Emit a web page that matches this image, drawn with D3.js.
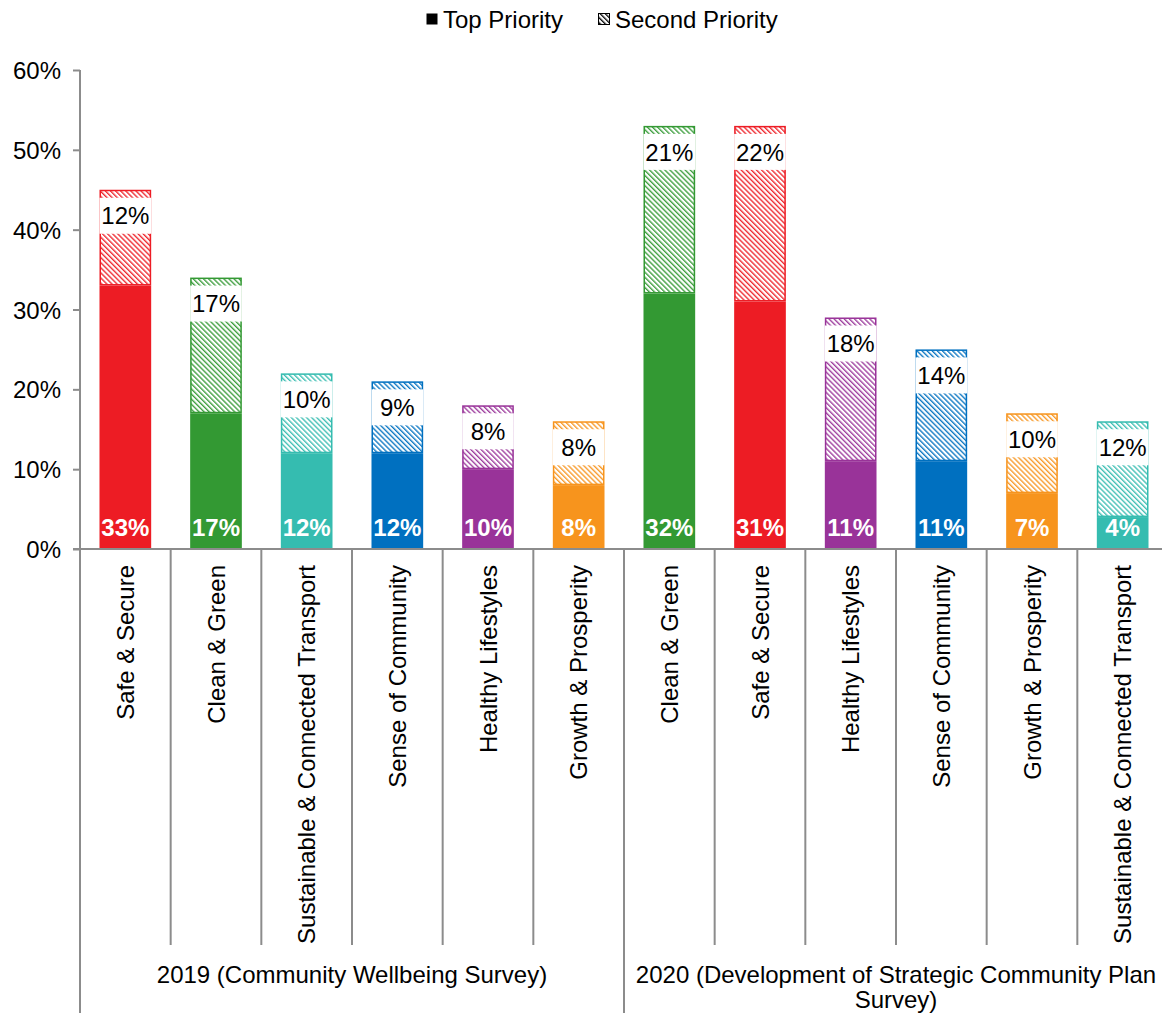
<!DOCTYPE html>
<html>
<head>
<meta charset="utf-8">
<script src="https://cdn.jsdelivr.net/npm/d3@7"></script>
<style>
  html, body { margin: 0; padding: 0; background: #fff; }
  svg { display: block; font-family: "Liberation Sans", Arial, sans-serif; }
</style>
</head>
<body>
<svg id="chart" width="1162" height="1013"></svg>
<script>
// Survey priorities, one entry per bar, in display order
const groups = ["2019 (Community Wellbeing Survey)", "2020 (Development of Strategic Community Plan Survey)"];
const categories = [
  "Safe & Secure", "Clean & Green", "Sustainable & Connected Transport",
  "Sense of Community", "Healthy Lifestyles", "Growth & Prosperity",
  "Clean & Green", "Safe & Secure", "Healthy Lifestyles",
  "Sense of Community", "Growth & Prosperity", "Sustainable & Connected Transport"
];
const groupOf = [0, 0, 0, 0, 0, 0, 1, 1, 1, 1, 1, 1];
const topPriority = [33, 17, 12, 12, 10, 8, 32, 31, 11, 11, 7, 4];
const secondPriority = [12, 17, 10, 9, 8, 8, 21, 22, 18, 14, 10, 12];
const yTicks = [0, 10, 20, 30, 40, 50, 60];
const seriesNames = ["Top Priority", "Second Priority"];

const themeColor = {
  "Safe & Secure": "#ed1c24",
  "Clean & Green": "#339933",
  "Sustainable & Connected Transport": "#35bcb0",
  "Sense of Community": "#0070c0",
  "Healthy Lifestyles": "#993399",
  "Growth & Prosperity": "#f7941d"
};

const svg = d3.select("#chart");
const FONT = 24;
const axisColor = "#8c8c8c";

const W = 1162, H = 1013;
const x0 = 80, x1 = 1168;
const yZero = 549;

const idx = d3.range(categories.length);
const x = d3.scaleBand().domain(idx).range([x0, x1]).paddingInner(0.43).paddingOuter(0.215);
const y = d3.scaleLinear().domain([0, 60]).range([yZero, 70]);

// Hatch patterns: one per theme colour, plus black for the legend
const defs = svg.append("defs");
function hatch(id, color) {
  const p = defs.append("pattern")
    .attr("id", id)
    .attr("patternUnits", "userSpaceOnUse")
    .attr("width", 3.6).attr("height", 3.6)
    .attr("patternTransform", "rotate(-45)");
  p.append("rect").attr("width", 3.6).attr("height", 3.6).attr("fill", "#fff");
  p.append("line").attr("x1", 0.7).attr("y1", 0).attr("x2", 0.7).attr("y2", 3.6)
    .attr("stroke", color).attr("stroke-width", 1.3);
}
const patternId = {};
Object.entries(themeColor).forEach(([k, c], i) => { patternId[k] = "hatch" + i; hatch("hatch" + i, c); });
hatch("hatchLegend", "#000");

// Y axis
const yAxis = d3.axisLeft(y).tickValues(yTicks).tickFormat(d => d + "%").tickSize(7).tickSizeOuter(0);
const gy = svg.append("g").attr("transform", `translate(${x0},0)`).call(yAxis);
gy.select(".domain").remove();
gy.selectAll(".tick line").attr("stroke", axisColor).attr("stroke-width", 2);
gy.selectAll(".tick text").attr("font-size", FONT).attr("fill", "#000")
  .attr("font-family", "Liberation Sans, Arial, sans-serif").attr("x", -19).attr("dy", "0.36em");
svg.append("line").attr("x1", x0).attr("x2", x0).attr("y1", y(60)).attr("y2", H)
  .attr("stroke", axisColor).attr("stroke-width", 2);

// Bars
const bars = svg.append("g");
idx.forEach(i => {
  const c = categories[i];
  const bx = x(i), bw = x.bandwidth();
  const t = topPriority[i], s = secondPriority[i];
  bars.append("rect").attr("x", bx).attr("width", bw)
    .attr("y", y(t)).attr("height", y(0) - y(t)).attr("fill", themeColor[c]);
  bars.append("rect").attr("x", bx + 0.75).attr("width", bw - 1.5)
    .attr("y", y(t + s) + 0.75).attr("height", y(t) - y(t + s) - 1.5)
    .attr("fill", `url(#${patternId[c]})`)
    .attr("stroke", themeColor[c]).attr("stroke-width", 1.5);
  // second-priority label, boxed near the top of its segment
  const boxTop = y(t + s) + 8;
  bars.append("rect").attr("x", bx).attr("width", bw).attr("y", boxTop).attr("height", 36).attr("fill", "#fff");
  bars.append("text").attr("x", bx + bw / 2).attr("y", boxTop + 18).attr("dy", "0.36em")
    .attr("text-anchor", "middle").attr("font-size", FONT).attr("fill", "#000").text(s + "%");
  // top-priority label at the base
  bars.append("text").attr("x", bx + bw / 2).attr("y", yZero - 22).attr("dy", "0.36em")
    .attr("text-anchor", "middle").attr("font-size", FONT).attr("font-weight", "bold")
    .attr("fill", "#fff").text(t + "%");
});

// Baseline
svg.append("line").attr("x1", x0 - 7).attr("x2", x1).attr("y1", yZero).attr("y2", yZero)
  .attr("stroke", axisColor).attr("stroke-width", 2);

// Category separators and labels
const step = x.step();
idx.forEach(i => {
  const edge = x0 + step * i;
  if (i > 0) {
    const major = groupOf[i] !== groupOf[i - 1];
    svg.append("line").attr("x1", edge).attr("x2", edge).attr("y1", yZero)
      .attr("y2", major ? H : 945).attr("stroke", axisColor).attr("stroke-width", 2);
  }
  const cx = x(i) + x.bandwidth() / 2;
  svg.append("text")
    .attr("transform", `translate(${cx},${yZero + 16}) rotate(-90)`)
    .attr("text-anchor", "end").attr("dy", "0.36em")
    .attr("font-size", FONT).attr("fill", "#000").text(categories[i]);
});

// Group labels
groups.forEach((g, gi) => {
  const members = idx.filter(i => groupOf[i] === gi);
  const left = x0 + step * members[0];
  const right = x0 + step * (members[members.length - 1] + 1);
  const cx = (left + right) / 2;
  const avail = right - left - 10;
  const t = svg.append("text").attr("x", cx).attr("y", 974)
    .attr("text-anchor", "middle").attr("font-size", FONT).attr("fill", "#000");
  // wrap onto a second line when the label is wider than the group
  const words = g.split(" ");
  let line = [], lines = [];
  const probe = svg.append("text").attr("font-size", FONT).attr("visibility", "hidden");
  words.forEach(w => {
    const trial = line.concat(w).join(" ");
    probe.text(trial);
    if (probe.node().getComputedTextLength() > avail && line.length) { lines.push(line.join(" ")); line = [w]; }
    else line.push(w);
  });
  lines.push(line.join(" "));
  probe.remove();
  lines.forEach((l, li) => {
    t.append("tspan").attr("x", cx).attr("dy", li === 0 ? "0.36em" : 25).text(l);
  });
});

// Legend
const legend = svg.append("g");
const legendItems = [
  { name: seriesNames[0], x: 426, fill: "#000", stroke: "none" },
  { name: seriesNames[1], x: 598, fill: "url(#hatchLegend)", stroke: "#000" }
];
legendItems.forEach(d => {
  legend.append("rect").attr("x", d.x + 0.5).attr("y", 13.5).attr("width", 11).attr("height", 11)
    .attr("fill", d.fill).attr("stroke", d.stroke).attr("stroke-width", 1);
  legend.append("text").attr("x", d.x + 17).attr("y", 19).attr("dy", "0.36em")
    .attr("font-size", FONT).attr("fill", "#000").text(d.name);
});
</script>
</body>
</html>
